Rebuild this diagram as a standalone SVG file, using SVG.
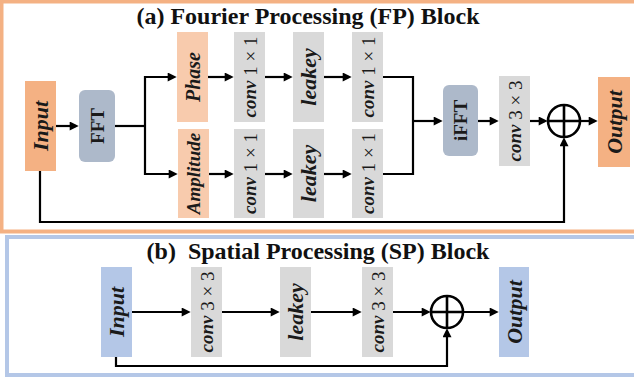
<svg xmlns="http://www.w3.org/2000/svg" width="634" height="379" viewBox="0 0 634 379">
<style>
.frameA{fill:#fff;stroke:#F4B183;stroke-width:4}
.frameB{fill:#fff;stroke:#B4C7E7;stroke-width:4}
.title{font-family:"Liberation Serif","Times New Roman",serif;font-weight:bold;font-size:24px;fill:#111;text-anchor:middle}
.org{fill:#F4B183}
.lorg{fill:#F8CBAD}
.gray{fill:#D9D9D9}
.fft{fill:#ADB9CA}
.blue{fill:#B4C7E7}
.lbl{font-family:"Liberation Serif","Times New Roman",serif;font-weight:bold;font-style:italic;font-size:19px;fill:#1a1a1a;text-anchor:middle;dominant-baseline:central}
.big{font-size:22px}
.num{font-weight:normal;font-style:normal}
.fl{font-family:"Liberation Serif","Times New Roman",serif;font-weight:bold;font-size:19px;fill:#1a1a1a;text-anchor:middle;dominant-baseline:central}
.ln{fill:none;stroke:#000;stroke-width:2.2}
.arr{fill:none;stroke:#000;stroke-width:2.2;marker-end:url(#ah)}
.sum{fill:none;stroke:#000;stroke-width:2.6}
</style>
<defs>
<marker id="ah" viewBox="0 0 10 10" refX="7" refY="5" markerWidth="10" markerHeight="9" markerUnits="userSpaceOnUse" orient="auto">
<path d="M0,0 L10,5 L0,10 z" fill="#000"/>
</marker>
</defs>
<rect class="frameA" x="1.5" y="1.5" width="640" height="230"/>
<rect class="frameB" x="7" y="237" width="640" height="138"/>
<text class="title" x="308" y="24">(a) Fourier Processing (FP) Block</text>
<text class="title" x="318" y="259" xml:space="preserve">(b)  Spatial Processing (SP) Block</text>

<g id="connectors">
<path class="arr" d="M56,126 H76"/>
<path class="ln" d="M115,126 H145"/>
<path class="arr" d="M145,126 V77 H174"/>
<path class="arr" d="M145,126 V174 H175"/>
<path class="arr" d="M208,77 H231"/>
<path class="arr" d="M265,77 H290"/>
<path class="arr" d="M324,77 H349"/>
<path class="arr" d="M209,174 H231"/>
<path class="arr" d="M265,174 H290"/>
<path class="arr" d="M324,174 H349"/>
<path class="ln" d="M383,77 H413 V174 H383"/>
<path class="arr" d="M413,121 H440"/>
<path class="arr" d="M478,121 H496"/>
<path class="arr" d="M530,121 H545"/>
<path class="arr" d="M580,121 H595"/>
<path class="arr" d="M40,171 V222 H564 V140"/>
<path class="arr" d="M132,312 H188"/>
<path class="arr" d="M222,312 H277"/>
<path class="arr" d="M311,312 H359"/>
<path class="arr" d="M393,312 H428"/>
<path class="arr" d="M463,312 H496"/>
<path class="arr" d="M116,357 V366 H447 V331"/>
</g>

<g id="fp-input"><rect class="org" x="25" y="81" width="31" height="90"/><text class="lbl big" transform="translate(40.5,126) rotate(-90)">Input</text></g>
<g id="fp-fft"><rect class="fft" x="79" y="90" width="36" height="72" rx="6"/><text class="fl" transform="translate(97,126) rotate(-90)">FFT</text></g>
<g id="fp-phase"><rect class="lorg" x="177" y="32" width="31" height="90"/><text class="lbl" style="font-size:20px" transform="translate(192.5,77) rotate(-90)">Phase</text></g>
<g id="fp-amplitude"><rect class="lorg" x="178" y="129" width="31" height="89"/><text class="lbl" transform="translate(193.5,173.5) rotate(-90)">Amplitude</text></g>
<g id="fp-conv1a"><rect class="gray" x="234" y="32" width="31" height="90"/><text class="lbl" transform="translate(249.5,77) rotate(-90)">conv <tspan class="num">1 × 1</tspan></text></g>
<g id="fp-conv1b"><rect class="gray" x="234" y="129" width="31" height="89"/><text class="lbl" transform="translate(249.5,173.5) rotate(-90)">conv <tspan class="num">1 × 1</tspan></text></g>
<g id="fp-leakey-a"><rect class="gray" x="293" y="32" width="31" height="90"/><text class="lbl big" transform="translate(308.5,77) rotate(-90)">leakey</text></g>
<g id="fp-leakey-b"><rect class="gray" x="293" y="129" width="31" height="89"/><text class="lbl big" transform="translate(308.5,173.5) rotate(-90)">leakey</text></g>
<g id="fp-conv2a"><rect class="gray" x="352" y="32" width="31" height="90"/><text class="lbl" transform="translate(367.5,77) rotate(-90)">conv <tspan class="num">1 × 1</tspan></text></g>
<g id="fp-conv2b"><rect class="gray" x="352" y="129" width="31" height="89"/><text class="lbl" transform="translate(367.5,173.5) rotate(-90)">conv <tspan class="num">1 × 1</tspan></text></g>
<g id="fp-ifft"><rect class="fft" x="443" y="85" width="35" height="71" rx="6"/><text class="fl" transform="translate(460.5,120.5) rotate(-90)">iFFT</text></g>
<g id="fp-conv3"><rect class="gray" x="499" y="76" width="31" height="90"/><text class="lbl" transform="translate(514.5,121) rotate(-90)">conv <tspan class="num">3 × 3</tspan></text></g>
<g id="fp-sum"><circle class="sum" cx="564" cy="121" r="16"/><path class="sum" d="M548,121 H580 M564,105 V137"/></g>
<g id="fp-output"><rect class="org" x="598" y="77" width="32" height="90"/><text class="lbl big" transform="translate(614,122) rotate(-90)">Output</text></g>

<g id="sp-input"><rect class="blue" x="101" y="267" width="31" height="90"/><text class="lbl big" transform="translate(116.5,312) rotate(-90)">Input</text></g>
<g id="sp-conv-a"><rect class="gray" x="191" y="267" width="31" height="90"/><text class="lbl" transform="translate(206.5,312) rotate(-90)">conv <tspan class="num">3 × 3</tspan></text></g>
<g id="sp-leakey"><rect class="gray" x="280" y="267" width="31" height="90"/><text class="lbl big" transform="translate(295.5,312) rotate(-90)">leakey</text></g>
<g id="sp-conv-b"><rect class="gray" x="362" y="267" width="31" height="90"/><text class="lbl" transform="translate(377.5,312) rotate(-90)">conv <tspan class="num">3 × 3</tspan></text></g>
<g id="sp-sum"><circle class="sum" cx="447" cy="312" r="16"/><path class="sum" d="M431,312 H463 M447,296 V328"/></g>
<g id="sp-output"><rect class="blue" x="499" y="267" width="30" height="90"/><text class="lbl big" transform="translate(514,312) rotate(-90)">Output</text></g>
</svg>
